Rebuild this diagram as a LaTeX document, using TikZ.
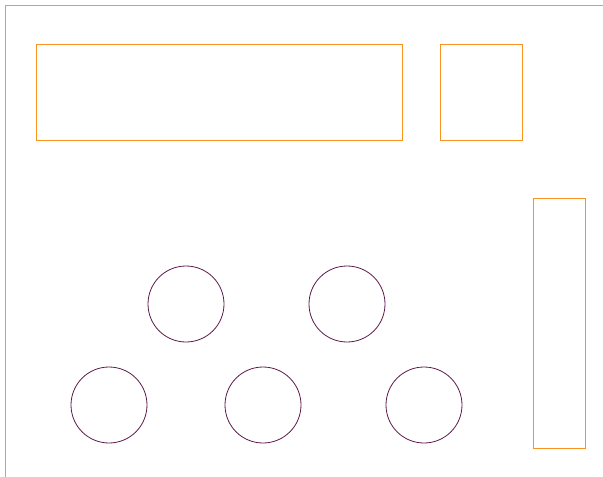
\documentclass[tikz,border=0pt]{standalone}
\definecolor{frame}{HTML}{A8A8A8}
\definecolor{boxor}{HTML}{F7931E}
\definecolor{circp}{HTML}{5C1A4A}
\begin{document}
\begin{tikzpicture}[x=1pt,y=-1pt,
  boxst/.style={draw=boxor,line width=0.8pt},
  circst/.style={draw=circp,line width=0.8pt,circle,minimum size=76pt,inner sep=0pt}]
\useasboundingbox (0,0) rectangle (603,477);
\coordinate (fb) at (5.5,477);
\coordinate (fc) at (5.5,5.5);
\coordinate (fr) at (603,5.5);
\draw[frame,line width=1pt] (fb) -- (fc) -- (fr);
\draw[boxst] (36,44) rectangle (402,140);
\draw[boxst] (440,44) rectangle (522,140);
\draw[boxst] (533,198) rectangle (585,448);
\node[circst] (c1) at (186,304) {};
\node[circst] (c2) at (347,304) {};
\node[circst] (c3) at (109,405) {};
\node[circst] (c4) at (263,405) {};
\node[circst] (c5) at (424,405) {};
\end{tikzpicture}
\end{document}
